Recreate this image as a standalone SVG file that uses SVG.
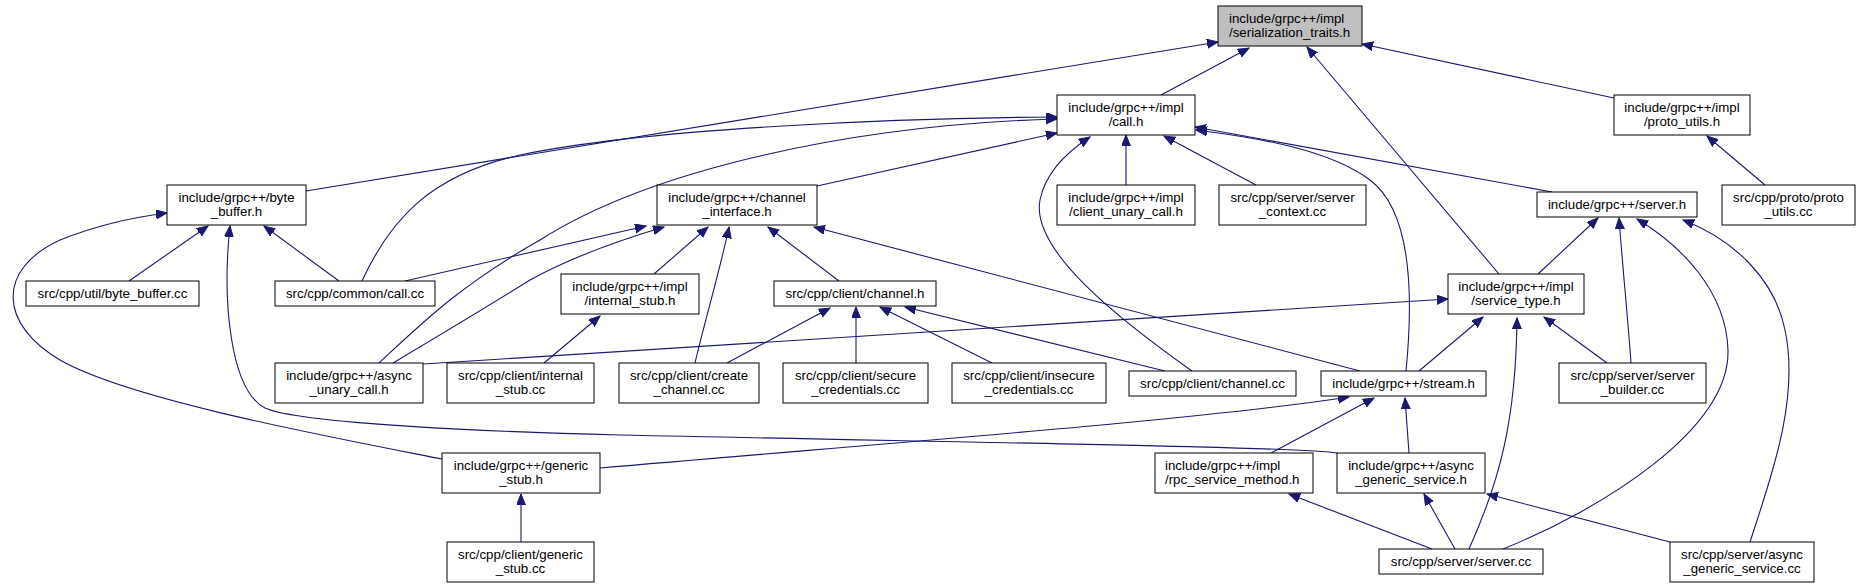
<svg xmlns="http://www.w3.org/2000/svg" width="1862" height="588" viewBox="0 0 1862 588">
<style>
.n rect{fill:#fff;stroke:#000;stroke-width:1}
.n.root rect{fill:#bfbfbf}
.n text{font-family:"Liberation Sans",Arial,Helvetica,sans-serif;font-size:13.3px;fill:#000;text-anchor:middle}
.n text.l{text-anchor:start}
#edges path{fill:none;stroke:#191970;stroke-width:1.1;marker-end:url(#ah)}
</style>
<defs>
<marker id="ah" markerUnits="userSpaceOnUse" markerWidth="12" markerHeight="10" refX="11" refY="4.5" orient="auto">
<path d="M0,0 L11,4.5 L0,9 z" fill="#191970" stroke="#191970" stroke-width="1"/>
</marker>
</defs>
<rect width="1862" height="588" fill="#fff"/>
<g id="edges">
<path d="M1161,95 L1249,48"/>
<path d="M306,191 L1218,42"/>
<path d="M1614,98 L1362,44"/>
<path d="M1499,274 L1307,47"/>
<path d="M1765,185 L1707,136"/>
<path d="M817,186 L1057,133"/>
<path d="M1126,185 L1126,135"/>
<path d="M1256,185 L1164,136"/>
<path d="M1552,192 L1195,127"/>
<path d="M1406,371 C1414,290 1410,210 1370,180 C1330,150 1260,138 1196,130"/>
<path d="M1192,371 C1120,320 1030,250 1040,200 C1046,170 1070,150 1090,137"/>
<path d="M362,281 C390,220 430,175 520,155 C650,128 900,118 1057,117"/>
<path d="M379,363 C420,325 460,285 540,240 C650,170 850,125 1057,119"/>
<path d="M405,281 L646,226"/>
<path d="M393,363 C440,335 490,305 530,280 C570,258 620,240 664,227"/>
<path d="M654,274 L708,227"/>
<path d="M695,363 C705,320 720,270 729,227"/>
<path d="M839,281 L768,227"/>
<path d="M1360,371 L814,227"/>
<path d="M544,363 L600,316"/>
<path d="M423,364 L1448,299"/>
<path d="M727,363 L830,308"/>
<path d="M856,363 L856,307"/>
<path d="M992,363 L880,307"/>
<path d="M1165,371 L905,307"/>
<path d="M1538,274 L1598,218"/>
<path d="M1631,363 C1628,320 1622,260 1619,218"/>
<path d="M1503,549 C1600,510 1730,430 1728,350 C1726,290 1680,245 1637,219"/>
<path d="M1750,542 C1770,480 1800,400 1785,330 C1775,280 1735,240 1683,220"/>
<path d="M1419,371 L1483,317"/>
<path d="M1607,363 L1544,317"/>
<path d="M1469,549 C1500,480 1516,420 1517,318"/>
<path d="M600,468 C900,442 1200,420 1349,397"/>
<path d="M1271,453 L1374,398"/>
<path d="M1409,453 L1405,398"/>
<path d="M1337,453 C1300,447 1000,443 620,435 C500,432 300,424 265,408 C230,390 222,300 230,226"/>
<path d="M442,459 C330,437 130,400 60,360 C0,325 -5,270 60,240 C100,224 135,217 167,213"/>
<path d="M129,281 L208,226"/>
<path d="M339,281 L264,226"/>
<path d="M521,542 L521,494"/>
<path d="M1432,549 L1289,494"/>
<path d="M1455,549 L1424,494"/>
<path d="M1670,542 L1487,494"/>
</g>
<g id="n_serialization_traits" class="n root"><rect x="1218" y="6" width="144" height="40"/><text class="l" x="1229" y="22.5">include/grpc++/impl</text><text class="l" x="1229" y="36.5">/serialization_traits.h</text></g>
<g id="n_call_h" class="n"><rect x="1057" y="95" width="138" height="40"/><text x="1126" y="111.5">include/grpc++/impl</text><text x="1126" y="125.5">/call.h</text></g>
<g id="n_proto_utils_h" class="n"><rect x="1614" y="95" width="136" height="40"/><text x="1682" y="111.5">include/grpc++/impl</text><text x="1682" y="125.5">/proto_utils.h</text></g>
<g id="n_byte_buffer_h" class="n"><rect x="167" y="185" width="139" height="40"/><text x="236.5" y="201.5">include/grpc++/byte</text><text x="236.5" y="215.5">_buffer.h</text></g>
<g id="n_channel_interface_h" class="n"><rect x="657" y="185" width="160" height="40"/><text x="737" y="201.5">include/grpc++/channel</text><text x="737" y="215.5">_interface.h</text></g>
<g id="n_client_unary_call_h" class="n"><rect x="1057" y="185" width="138" height="40"/><text x="1126" y="201.5">include/grpc++/impl</text><text x="1126" y="215.5">/client_unary_call.h</text></g>
<g id="n_server_context_cc" class="n"><rect x="1219" y="185" width="147" height="40"/><text x="1292.5" y="201.5">src/cpp/server/server</text><text x="1292.5" y="215.5">_context.cc</text></g>
<g id="n_server_h" class="n"><rect x="1537" y="192" width="160" height="25"/><text x="1617" y="209">include/grpc++/server.h</text></g>
<g id="n_proto_utils_cc" class="n"><rect x="1722" y="185" width="133" height="40"/><text x="1788.5" y="201.5">src/cpp/proto/proto</text><text x="1788.5" y="215.5">_utils.cc</text></g>
<g id="n_byte_buffer_cc" class="n"><rect x="26" y="281" width="173" height="25"/><text x="112.5" y="298">src/cpp/util/byte_buffer.cc</text></g>
<g id="n_common_call_cc" class="n"><rect x="275" y="281" width="160" height="25"/><text x="355" y="298">src/cpp/common/call.cc</text></g>
<g id="n_internal_stub_h" class="n"><rect x="561" y="274" width="138" height="40"/><text x="630" y="290.5">include/grpc++/impl</text><text x="630" y="304.5">/internal_stub.h</text></g>
<g id="n_channel_h" class="n"><rect x="774" y="281" width="162" height="25"/><text x="855" y="298">src/cpp/client/channel.h</text></g>
<g id="n_service_type_h" class="n"><rect x="1448" y="274" width="136" height="40"/><text x="1516" y="290.5">include/grpc++/impl</text><text x="1516" y="304.5">/service_type.h</text></g>
<g id="n_async_unary_call_h" class="n"><rect x="275" y="363" width="148" height="40"/><text x="349" y="379.5">include/grpc++/async</text><text x="349" y="393.5">_unary_call.h</text></g>
<g id="n_internal_stub_cc" class="n"><rect x="447" y="363" width="147" height="40"/><text x="520.5" y="379.5">src/cpp/client/internal</text><text x="520.5" y="393.5">_stub.cc</text></g>
<g id="n_create_channel_cc" class="n"><rect x="619" y="363" width="140" height="40"/><text x="689" y="379.5">src/cpp/client/create</text><text x="689" y="393.5">_channel.cc</text></g>
<g id="n_secure_credentials_cc" class="n"><rect x="783" y="363" width="145" height="40"/><text x="855.5" y="379.5">src/cpp/client/secure</text><text x="855.5" y="393.5">_credentials.cc</text></g>
<g id="n_insecure_credentials_cc" class="n"><rect x="952" y="363" width="154" height="40"/><text x="1029" y="379.5">src/cpp/client/insecure</text><text x="1029" y="393.5">_credentials.cc</text></g>
<g id="n_channel_cc" class="n"><rect x="1129" y="371" width="167" height="25"/><text x="1212.5" y="388">src/cpp/client/channel.cc</text></g>
<g id="n_stream_h" class="n"><rect x="1321" y="371" width="165" height="25"/><text x="1403.5" y="388">include/grpc++/stream.h</text></g>
<g id="n_server_builder_cc" class="n"><rect x="1559" y="363" width="147" height="40"/><text x="1632.5" y="379.5">src/cpp/server/server</text><text x="1632.5" y="393.5">_builder.cc</text></g>
<g id="n_generic_stub_h" class="n"><rect x="442" y="453" width="158" height="40"/><text x="521" y="469.5">include/grpc++/generic</text><text x="521" y="483.5">_stub.h</text></g>
<g id="n_rpc_service_method_h" class="n"><rect x="1155" y="453" width="158" height="40"/><text class="l" x="1165" y="469.5">include/grpc++/impl</text><text class="l" x="1165" y="483.5">/rpc_service_method.h</text></g>
<g id="n_async_generic_service_h" class="n"><rect x="1337" y="453" width="148" height="40"/><text x="1411" y="469.5">include/grpc++/async</text><text x="1411" y="483.5">_generic_service.h</text></g>
<g id="n_generic_stub_cc" class="n"><rect x="447" y="542" width="147" height="40"/><text x="520.5" y="558.5">src/cpp/client/generic</text><text x="520.5" y="572.5">_stub.cc</text></g>
<g id="n_server_cc" class="n"><rect x="1379" y="549" width="164" height="25"/><text x="1461" y="566">src/cpp/server/server.cc</text></g>
<g id="n_async_generic_service_cc" class="n"><rect x="1670" y="542" width="144" height="40"/><text x="1742" y="558.5">src/cpp/server/async</text><text x="1742" y="572.5">_generic_service.cc</text></g>
</svg>
